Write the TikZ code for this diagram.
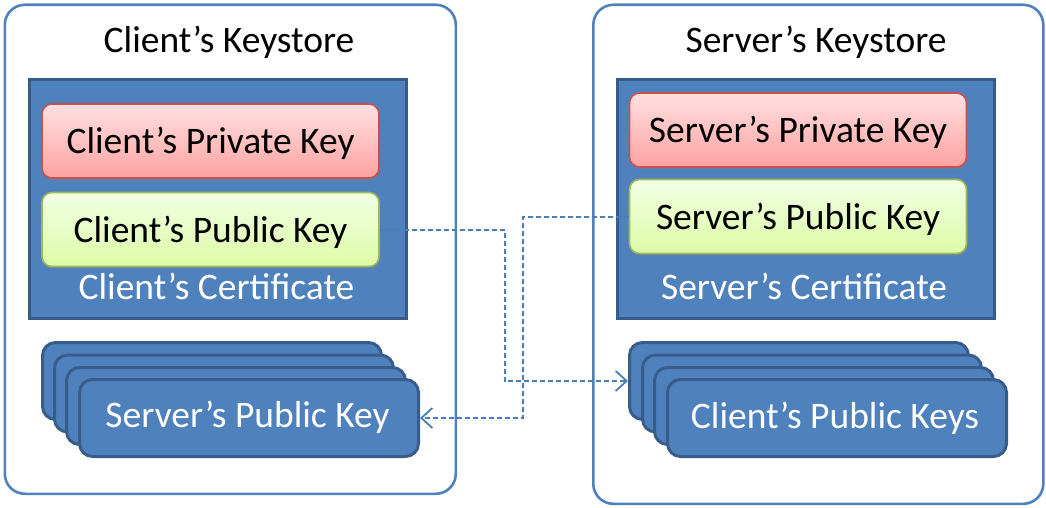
\documentclass[tikz,border=0pt]{standalone}
\usepackage{fontspec}
\setmainfont{Carlito}
\usetikzlibrary{arrows.meta,shadows}
\definecolor{outerc}{HTML}{4F81BD}
\definecolor{certfill}{HTML}{4F81BD}
\definecolor{certdraw}{HTML}{385D8A}
\definecolor{redtop}{HTML}{FFE0E0}
\definecolor{redbot}{HTML}{FFA2A2}
\definecolor{reddraw}{HTML}{C9504D}
\definecolor{greentop}{HTML}{F2FFE4}
\definecolor{greenbot}{HTML}{DCFBA6}
\definecolor{greendraw}{HTML}{9BBB59}
\definecolor{linkc}{HTML}{4A7EBB}
\tikzset{
  outerbox/.style={draw=outerc, line width=2.6pt, rounded corners=20pt, fill=white, anchor=north west, inner sep=0pt},
  certbox/.style={draw=certdraw, fill=certfill, line width=3pt, anchor=north west, inner sep=0pt},
  privbox/.style={draw=reddraw, line width=1.6pt, rounded corners=10pt, top color=redtop, bottom color=redbot,
     minimum width=337pt, minimum height=74pt, inner sep=0pt, text height=25pt, text depth=0pt,
     drop shadow={shadow xshift=1pt, shadow yshift=-2.5pt, opacity=0.35}},
  pubbox/.style={draw=greendraw, line width=1.6pt, rounded corners=10pt, top color=greentop, bottom color=greenbot,
     minimum width=337pt, minimum height=74pt, inner sep=0pt, text height=25pt, text depth=0pt,
     drop shadow={shadow xshift=1pt, shadow yshift=-2.5pt, opacity=0.35}},
  stackbox/.style={draw=certdraw, fill=certfill, line width=3pt, rounded corners=13pt, anchor=north west,
     minimum width=339pt, minimum height=77pt, inner sep=0pt},
  stacklabel/.style={text=white, anchor=base},
  title/.style={anchor=base, text=black},
  link/.style={draw=linkc, line width=2pt, dash pattern=on 5pt off 3pt},
  linkarrow/.style={-{Straight Barb[length=11pt,width=20pt,line width=1.8pt]}}
}
\begin{document}\fontsize{37.5}{45}\selectfont
\begin{tikzpicture}[x=1pt,y=-1pt]
\useasboundingbox (0,0) rectangle (1046,508);
% outer keystores
\node[outerbox, minimum width=451pt, minimum height=489pt] (cks) at (3.5,3.5) {};
\node[outerbox, minimum width=450pt, minimum height=499pt] (sks) at (592,3.5) {};
\node[title] (cksT) at (229,53) {Client’s Keystore};
\node[title] (sksT) at (816,53) {Server’s Keystore};
% certificates
\node[certbox, minimum width=377pt, minimum height=239pt] (ccert) at (28,78) {};
\node[certbox, minimum width=377pt, minimum height=239pt] (scert) at (616,78) {};
\node[privbox] (cpriv) at (210.5,141) {Client’s Private Key};
\node[pubbox] (cpub) at (210.5,229.5) {Client’s Public Key};
\node[privbox] (spriv) at (798,130) {Server’s Private Key};
\node[pubbox] (spub) at (798,216.5) {Server’s Public Key};
\node[stacklabel] (ccertT) at (216.5,299) {Client’s Certificate};
\node[stacklabel] (scertT) at (804,299) {Server’s Certificate};
% left stack
\node[stackbox] (cs1) at (41,341) {};
\node[stackbox] (cs2) at (53,353.5) {};
\node[stackbox] (cs3) at (65,366) {};
\node[stackbox] (cs4) at (78,378) {};
\node[stacklabel] (cs4T) at (247.5,427) {Server’s Public Key};
% right stack
\node[stackbox] (ss1) at (628,341) {};
\node[stackbox] (ss2) at (641,353.5) {};
\node[stackbox] (ss3) at (653,366) {};
\node[stackbox] (ss4) at (666,378) {};
\node[stacklabel] (ss4T) at (835,428) {Client’s Public Keys};
% connectors
\draw[link, linkarrow] (cpub.east) -- ++(125,0) |- (ss1.west);
\draw[link, linkarrow] (spub.west) -- ++(-106,0) |- (cs4.east);
\end{tikzpicture}
\end{document}
